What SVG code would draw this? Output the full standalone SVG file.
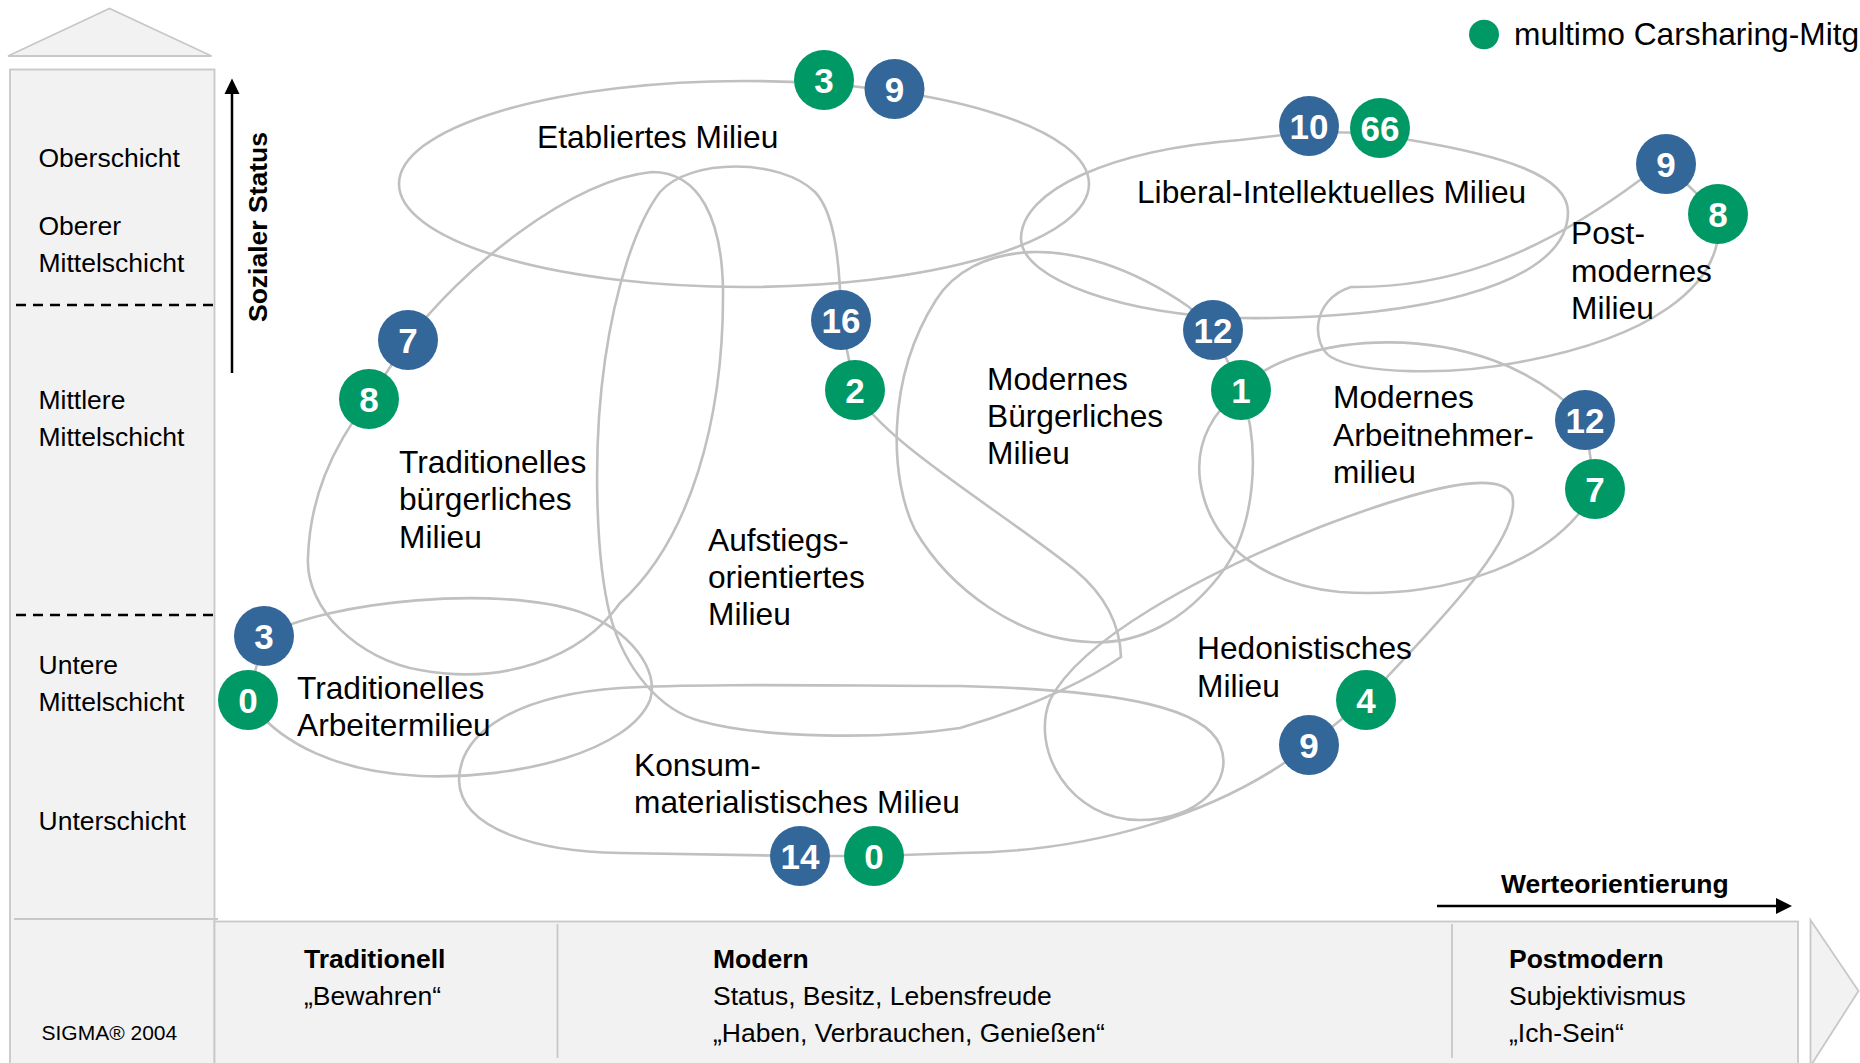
<svg xmlns="http://www.w3.org/2000/svg" width="1860" height="1063" viewBox="0 0 1860 1063">
<style>
.c{fill:none;stroke:#c0c0c0;stroke-width:2.6}
.fr{fill:#f2f2f2;stroke:#c8c8c8;stroke-width:1.8}
.g{fill:#009966}
.b{fill:#336699}
.n{font-family:"Liberation Sans",Arial,sans-serif;font-weight:bold;font-size:35px;fill:#fff;text-anchor:middle}
.t{font-family:"Liberation Sans",Arial,sans-serif;font-size:31.7px;fill:#000}
.s{font-family:"Liberation Sans",Arial,sans-serif;font-size:26.5px;fill:#000}
.sb{font-family:"Liberation Sans",Arial,sans-serif;font-size:26.5px;font-weight:bold;fill:#000}
.d{stroke:#000;stroke-width:2.5;stroke-dasharray:10 7}
</style>
<rect width="1860" height="1063" fill="#fff"/>
<g id="frame">
<polygon class="fr" points="8,56 109.5,8.5 211.5,56"/>
<rect class="fr" x="10" y="69.5" width="204.5" height="1010"/>
<line x1="14" y1="919" x2="218" y2="919" stroke="#c8c8c8" stroke-width="1.8"/>
<rect class="fr" x="214.5" y="921.5" width="1583.5" height="160"/>
<line x1="557.5" y1="924" x2="557.5" y2="1058" stroke="#c8c8c8" stroke-width="1.8"/>
<line x1="1452" y1="924" x2="1452" y2="1058" stroke="#c8c8c8" stroke-width="1.8"/>
<polygon class="fr" points="1810.5,920 1858.5,991 1810.5,1066"/>
<line class="d" x1="16" y1="305" x2="214" y2="305"/>
<line class="d" x1="16" y1="615" x2="214" y2="615"/>
</g>
<g id="status-labels">
<text class="s" x="38.5" y="166.5">Oberschicht</text>
<text class="s" x="38.5" y="235">Oberer</text>
<text class="s" x="38.5" y="272">Mittelschicht</text>
<text class="s" x="38.5" y="409">Mittlere</text>
<text class="s" x="38.5" y="446">Mittelschicht</text>
<text class="s" x="38.5" y="674">Untere</text>
<text class="s" x="38.5" y="711">Mittelschicht</text>
<text class="s" x="38.5" y="830">Unterschicht</text>
<text class="s" x="41.5" y="1040" style="font-size:21px">SIGMA® 2004</text>
</g>
<g id="value-labels">
<text class="sb" x="304" y="968">Traditionell</text>
<text class="s" x="304" y="1005">„Bewahren“</text>
<text class="sb" x="713" y="968">Modern</text>
<text class="s" x="713" y="1005">Status, Besitz, Lebensfreude</text>
<text class="s" x="713" y="1042">„Haben, Verbrauchen, Genießen“</text>
<text class="sb" x="1509" y="968">Postmodern</text>
<text class="s" x="1509" y="1005">Subjektivismus</text>
<text class="s" x="1509" y="1042">„Ich-Sein“</text>
</g>
<g id="axes">
<line x1="232" y1="373" x2="232" y2="92" stroke="#000" stroke-width="2.5"/>
<polygon points="224.5,94 232,78.5 239.5,94" fill="#000"/>
<text class="sb" transform="translate(267,322) rotate(-90)">Sozialer Status</text>
<line x1="1437" y1="906" x2="1778" y2="906" stroke="#000" stroke-width="2.5"/>
<polygon points="1776,898 1792,906 1776,914" fill="#000"/>
<text class="sb" x="1501" y="893">Werteorientierung</text>
</g>
<g id="legend">
<ellipse class="g" cx="1484" cy="34.5" rx="15" ry="14.7"/>
<text class="t" x="1514" y="45">multimo Carsharing-Mitg</text>
</g>
<g id="milieu-outlines">
<ellipse id="o-etabliert" class="c" cx="744" cy="184" rx="345" ry="103"/>
<path id="o-liberal" class="c" d="M1240,140 C1110,150 1022,190 1021,238 C1020,280 1130,316 1240,318 C1400,320 1568,290 1568,212 C1568,175 1500,155 1410,140 L1380,133 L1309,132 Z"/>
<path id="o-postmodern" class="c" d="M1718,214 C1728,290 1640,340 1520,362 C1450,376 1360,374 1331,357 C1312,345 1310,300 1351,287 C1440,288 1530,262 1640,180 L1666,164 Z"/>
<path id="o-tradbuerg" class="c" d="M408,340 C460,270 570,180 652,172 C700,172 722,220 723,290 C724,420 690,540 620,603 C580,660 500,685 420,670 C360,660 305,610 308,557 C310,500 330,450 369,399 Z"/>
<path id="o-aufstieg" class="c" d="M855,390 C880,440 1000,510 1075,570 C1105,595 1120,625 1121,657 C1095,675 1040,705 960,728 C880,740 760,738 700,721 C660,710 625,670 610,615 C596,560 592,450 605,360 C615,290 635,225 660,192 C690,158 780,158 815,192 C832,210 840,250 841,320 Z"/>
<path id="o-modbuerg" class="c" d="M1213,330 L1241,390 C1262,450 1255,530 1220,575 C1185,620 1140,645 1090,642 C1020,640 950,590 915,530 C890,480 885,380 936,300 C970,245 1070,225 1189,307 Z"/>
<path id="o-arbeitnehmer" class="c" d="M1241,390 C1285,335 1480,308 1585,420 L1595,489 C1560,560 1450,600 1340,592 C1270,585 1210,550 1200,480 C1195,440 1215,410 1241,390 Z"/>
<path id="o-tradarbeiter" class="c" d="M248,700 L264,636 C330,600 500,585 580,612 C630,630 660,670 650,700 C630,750 520,780 420,776 C340,772 280,745 248,700 Z"/>
<path id="o-konsum" class="c" d="M960,686 C850,686 700,683 620,688 C520,695 460,730 459,780 C460,830 540,852 620,853 L800,856 L874,856 L960,853"/>
<path id="o-hedonist" class="c" d="M960,853 C1090,852 1220,815 1309,745 L1366,700 C1420,640 1525,540 1512,495 C1500,470 1430,485 1320,527 C1200,575 1080,640 1050,700 C1030,750 1070,820 1140,820 C1200,820 1235,780 1220,745 C1205,710 1130,690 960,686"/>
</g>
<g id="milieu-etabliert">
<text class="t" x="537" y="148">Etabliertes Milieu</text>
<circle class="g" cx="824" cy="80" r="30"/><text class="n" x="824" y="92.5">3</text>
<circle class="b" cx="894.5" cy="89" r="30"/><text class="n" x="894.5" y="101.5">9</text>
</g>
<g id="milieu-liberal">
<text class="t" x="1137" y="203">Liberal-Intellektuelles Milieu</text>
<circle class="b" cx="1309" cy="126" r="30"/><text class="n" x="1309" y="138.5">10</text>
<circle class="g" cx="1380" cy="128" r="30"/><text class="n" x="1380" y="140.5">66</text>
</g>
<g id="milieu-postmodern">
<text class="t" x="1571" y="244">Post-</text>
<text class="t" x="1571" y="282">modernes</text>
<text class="t" x="1571" y="319">Milieu</text>
<circle class="b" cx="1666" cy="164" r="30"/><text class="n" x="1666" y="176.5">9</text>
<circle class="g" cx="1718" cy="214" r="30"/><text class="n" x="1718" y="226.5">8</text>
</g>
<g id="milieu-tradbuerg">
<text class="t" x="399" y="473">Traditionelles</text>
<text class="t" x="399" y="510">bürgerliches</text>
<text class="t" x="399" y="548">Milieu</text>
<circle class="b" cx="408" cy="340" r="30"/><text class="n" x="408" y="352.5">7</text>
<circle class="g" cx="369" cy="399" r="30"/><text class="n" x="369" y="411.5">8</text>
</g>
<g id="milieu-aufstieg">
<text class="t" x="708" y="551">Aufstiegs-</text>
<text class="t" x="708" y="588">orientiertes</text>
<text class="t" x="708" y="625">Milieu</text>
<circle class="b" cx="841" cy="320" r="30"/><text class="n" x="841" y="332.5">16</text>
<circle class="g" cx="855" cy="390" r="30"/><text class="n" x="855" y="402.5">2</text>
</g>
<g id="milieu-modbuerg">
<text class="t" x="987" y="390">Modernes</text>
<text class="t" x="987" y="427">Bürgerliches</text>
<text class="t" x="987" y="464">Milieu</text>
<circle class="b" cx="1213" cy="330" r="30"/><text class="n" x="1213" y="342.5">12</text>
<circle class="g" cx="1241" cy="390" r="30"/><text class="n" x="1241" y="402.5">1</text>
</g>
<g id="milieu-arbeitnehmer">
<text class="t" x="1333" y="408">Modernes</text>
<text class="t" x="1333" y="446">Arbeitnehmer-</text>
<text class="t" x="1333" y="483">milieu</text>
<circle class="b" cx="1585" cy="420" r="30"/><text class="n" x="1585" y="432.5">12</text>
<circle class="g" cx="1595" cy="489" r="30"/><text class="n" x="1595" y="501.5">7</text>
</g>
<g id="milieu-tradarbeiter">
<text class="t" x="297" y="699">Traditionelles</text>
<text class="t" x="297" y="736">Arbeitermilieu</text>
<circle class="b" cx="264" cy="636" r="30"/><text class="n" x="264" y="648.5">3</text>
<circle class="g" cx="248" cy="700" r="30"/><text class="n" x="248" y="712.5">0</text>
</g>
<g id="milieu-hedonist">
<text class="t" x="1197" y="659">Hedonistisches</text>
<text class="t" x="1197" y="697">Milieu</text>
<circle class="g" cx="1366" cy="700" r="30"/><text class="n" x="1366" y="712.5">4</text>
<circle class="b" cx="1309" cy="745" r="30"/><text class="n" x="1309" y="757.5">9</text>
</g>
<g id="milieu-konsum">
<text class="t" x="634" y="776">Konsum-</text>
<text class="t" x="634" y="813">materialistisches Milieu</text>
<circle class="b" cx="800" cy="856" r="30"/><text class="n" x="800" y="868.5">14</text>
<circle class="g" cx="874" cy="856" r="30"/><text class="n" x="874" y="868.5">0</text>
</g>
</svg>
